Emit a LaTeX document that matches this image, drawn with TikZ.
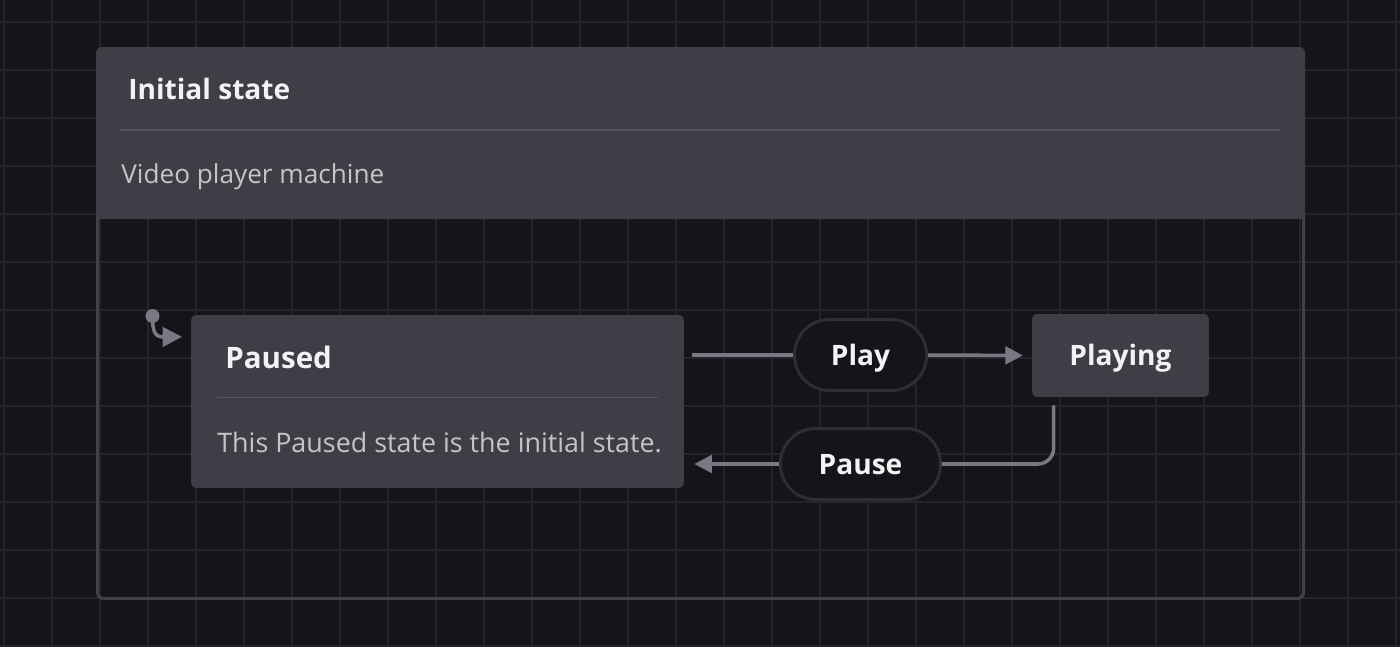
\documentclass[tikz,border=0pt]{standalone}
\usepackage{fontspec}
\setmainfont{Open Sans}
\usepackage{tikz}
\usetikzlibrary{arrows.meta,positioning,calc,shapes}

\definecolor{canvas}{RGB}{20,21,24}
\definecolor{gridgray}{RGB}{36,37,41}
\definecolor{statefill}{RGB}{61,62,70}
\definecolor{boxborder}{RGB}{64,65,73}
\definecolor{dividergray}{RGB}{86,87,94}
\definecolor{pillborder}{RGB}{45,46,51}
\definecolor{edgegray}{RGB}{120,121,132}
\definecolor{lighttext}{RGB}{242,242,244}
\definecolor{softtext}{RGB}{196,196,202}

\tikzset{
  gridline/.style={draw=gridgray, line width=1.1pt},
  divider/.style={draw=dividergray, line width=1.1pt},
  statebox/.style={fill=statefill, rounded corners=2.8pt, inner sep=0pt},
  statetitle/.style={inner sep=0pt, text=lighttext, font=\bfseries\fontsize{16}{19}\selectfont},
  statedesc/.style={inner sep=0pt, text=softtext, font=\fontsize{14.9}{17}\selectfont},
  eventpill/.style={draw=pillborder, line width=1.7pt, fill=canvas, rounded corners=0.7cm,
    inner sep=0pt, minimum height=1.42cm, text height=11.4pt, text depth=0pt,
    text=lighttext, font=\bfseries\fontsize{16}{19}\selectfont},
  edgeplain/.style={draw=edgegray, line width=2pt},
  edgeline/.style={edgeplain, -{Triangle[length=10pt,width=10pt]}}
}

\begin{document}
\begin{tikzpicture}[x=0.02cm, y=-0.02cm]
        \useasboundingbox (0,0) rectangle (1400,646);
        \fill[canvas] (0,0) rectangle (1400,646);

        % background grid
        \foreach \x in {4,52,...,1396} { \draw[gridline] (\x,0) -- (\x,646); }
        \foreach \y in {22,70,...,646} { \draw[gridline] (0,\y) -- (1400,\y); }

        % machine box
        \draw[draw=boxborder, line width=1.7pt, rounded corners=3pt] (97.5,215) -- (97.5,598.5) -- (1303.5,598.5) -- (1303.5,215);
        \fill[statefill, rounded corners=3.4pt] (96,47) rectangle (1305,219);
        \fill[statefill] (96,200) rectangle (1305,219);
        \node[statetitle, anchor=base west] (machinetitle) at (128,99.5) {Initial state};
        \draw[divider] (120,130) -- (1280,130);
        \node[statedesc, anchor=base west] (machinedesc) at (121,183) {Video player machine};

        % states
        \node[statebox, minimum width=9.86cm, minimum height=3.46cm] (paused) at (437.5,401.5) {};
        \node[statetitle, font=\bfseries\fontsize{16.8}{19}\selectfont, anchor=base west] (pausedtitle) at (225,368) {Paused};
        \draw[divider] (217,397.5) -- (658,397.5);
        \node[statedesc, font=\fontsize{15.3}{17}\selectfont, anchor=base west] (pauseddesc) at (217,452) {This Paused state is the initial state.};

        \node[statebox, minimum width=3.54cm, minimum height=1.66cm, text height=11.4pt, text depth=0pt,
          text=lighttext, font=\bfseries\fontsize{16}{19}\selectfont] (playing) at (1120.5,355.5) {Playing};

        % events
        \node[eventpill, minimum width=2.64cm] (play) at (860.5,355) {Play};
        \node[eventpill, minimum width=3.2cm] (pause) at (860.5,464) {Pause};

        % initial marker
        \coordinate (initdot) at (152.5,316);
        \fill[edgegray] (initdot) circle (0.14cm);
        \draw[edgeplain, -{Triangle[length=11pt,width=11pt]}, shorten >=5pt] (initdot) .. controls (152.5,332) and (155,337) .. ($(paused.north west)+(0,22)$);

        % paused to playing
        \draw[edgeplain, shorten <=4.5pt] (paused.east |- play.west) -- (play.west);
        \draw[edgeline, shorten >=5pt] (play.east) -- (playing.west);

        % playing to paused
        \draw[edgeplain, rounded corners=9pt, shorten <=4.5pt] ($(playing.south west)+(22,0)$) |- (pause.east);
        \draw[edgeline, shorten >=5.7pt] (pause.west) -- (paused.east |- pause.west);
\end{tikzpicture}
\end{document}
